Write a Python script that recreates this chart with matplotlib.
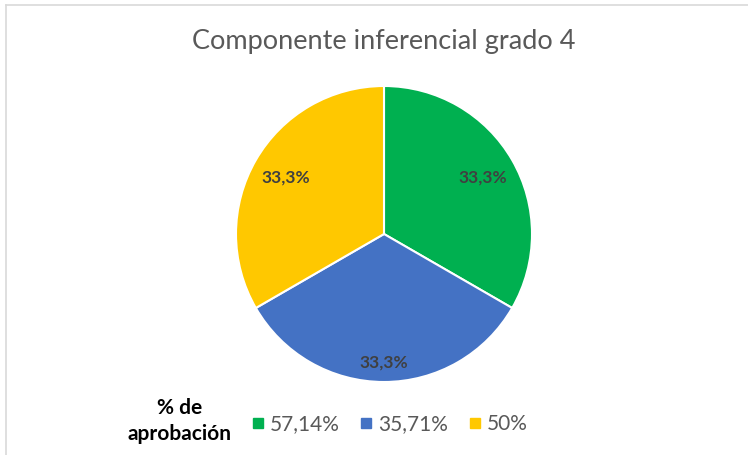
import matplotlib
matplotlib.use("Agg")
import matplotlib.pyplot as plt
from matplotlib.lines import Line2D
import numpy as np

title = "Componente inferencial grado 4"
categories = ["57,14%", "35,71%", "50%"]
values = [1, 1, 1]
labels = ["33,3%", "33,3%", "33,3%"]
colors = ["#00B050", "#4472C4", "#FFC800"]
legend_title = "% de\naprobación"

W, H = 748, 455
fig = plt.figure(figsize=(W / 100, H / 100), dpi=100)
plt.rcParams['font.family'] = ['Lato', 'DejaVu Sans']

# chart border (top and left visible)
fig.add_artist(Line2D([6 / W, 1], [1 - 5 / H, 1 - 5 / H], color="#D9D9D9", lw=1.2))
fig.add_artist(Line2D([6 / W, 6 / W], [0, 1 - 5 / H], color="#D9D9D9", lw=1.2))

cx, cy, r = 384, 234, 148
ax = fig.add_axes([(cx - r) / W, 1 - (cy + r) / H, 2 * r / W, 2 * r / H])
wedges, _ = ax.pie(values, colors=colors, startangle=90, counterclock=False,
                   radius=1, wedgeprops=dict(edgecolor="white", linewidth=1.5))
ax.set_xlim(-1, 1)
ax.set_ylim(-1, 1)
ax.set_aspect("equal")
ax.axis("off")

dists = [0.77, 0.87, 0.77]
for w, lab, d in zip(wedges, labels, dists):
    ang = np.deg2rad((w.theta1 + w.theta2) / 2)
    ax.text(d * np.cos(ang), d * np.sin(ang), lab, ha="center", va="center",
            fontsize=12.5, fontweight="bold", color="#404040")

fig.text(0.513, 1 - 42 / H, title, ha="center", va="center", fontsize=19.5, color="#595959")

fig.text(180 / W, 1 - 421 / H, legend_title, ha="center", va="center", fontsize=15,
         fontweight="bold", color="black", linespacing=1.35)

handles = [Line2D([], [], marker="s", linestyle="none", markersize=7.5,
                  markerfacecolor=c, markeredgecolor=c) for c in colors]
fig.legend(handles, categories, ncol=3, loc="center left",
           bbox_to_anchor=(252 / W, 1 - 424 / H), frameon=False,
           fontsize=15, labelcolor="#595959", handlelength=0.55, handletextpad=0.3,
           columnspacing=1.0, borderaxespad=0, borderpad=0)

fig.savefig("out.png", dpi=100, facecolor="white")
